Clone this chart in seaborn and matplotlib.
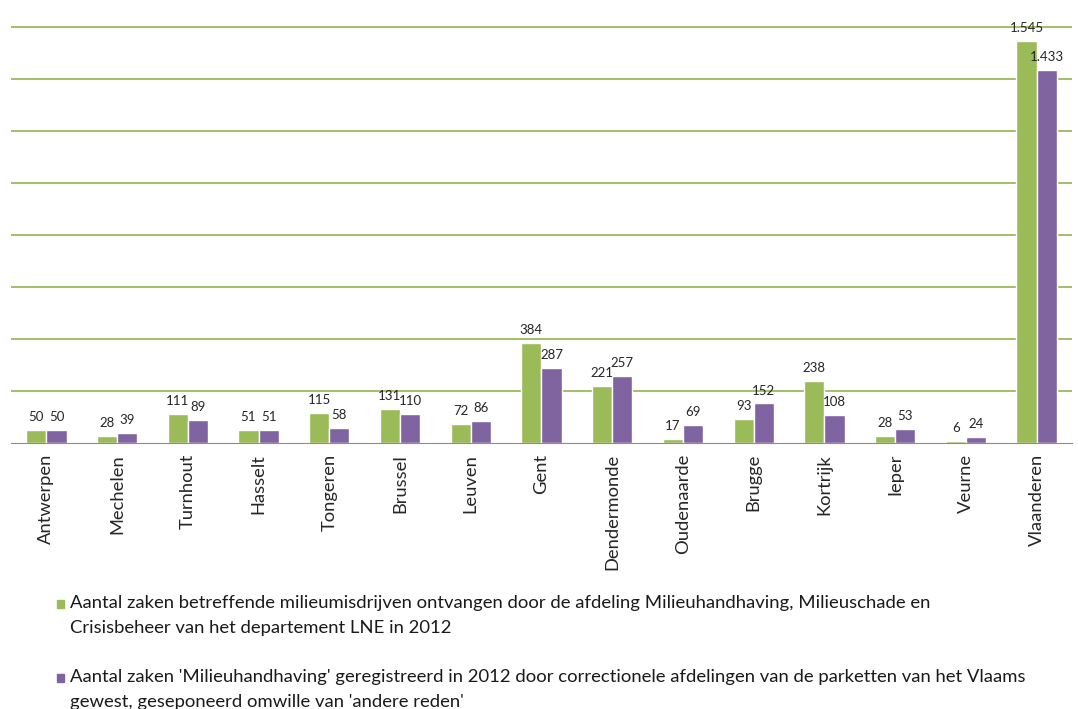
import matplotlib
matplotlib.use("Agg")
import matplotlib.pyplot as plt
from matplotlib.patches import Rectangle
import seaborn as sns
import pandas as pd
import numpy as np

regions = ["Antwerpen", "Mechelen", "Turnhout", "Hasselt", "Tongeren", "Brussel",
           "Leuven", "Gent", "Dendermonde", "Oudenaarde", "Brugge", "Kortrijk",
           "Ieper", "Veurne", "Vlaanderen"]
lne_cases = [50, 28, 111, 51, 115, 131, 72, 384, 221, 17, 93, 238, 28, 6, 1545]
parket_cases = [50, 39, 89, 51, 58, 110, 86, 287, 257, 69, 152, 108, 53, 24, 1433]
series_names = [
    "Aantal zaken betreffende milieumisdrijven ontvangen door de afdeling Milieuhandhaving, Milieuschade en\n"
    "Crisisbeheer van het departement LNE in 2012",
    "Aantal zaken 'Milieuhandhaving' geregistreerd in 2012 door correctionele afdelingen van de parketten van het Vlaams\n"
    "gewest, geseponeerd omwille van 'andere reden'",
]
colors = ["#9BBB59", "#8064A2"]

df = pd.DataFrame({
    "regio": regions * 2,
    "aantal": lne_cases + parket_cases,
    "reeks": [series_names[0]] * len(regions) + [series_names[1]] * len(regions),
})

sns.set_style("white")
plt.rcParams["font.family"] = ["Lato", "DejaVu Sans"]

fig = plt.figure(figsize=(10.78, 7.09), dpi=100)
ax = fig.add_axes([0.0102, 0.3752, 0.9842, 0.5900])

sns.barplot(data=df, x="regio", y="aantal", hue="reeks", palette=colors,
            width=0.57, gap=0, saturation=1, ax=ax, legend=False)

ax.set_ylim(0, 1609)
ax.set_xlim(-0.5, len(regions) - 0.5)
ax.set_yticks(np.arange(200, 1601, 200))
ax.set_yticklabels([])
ax.tick_params(axis="y", length=0)
ax.yaxis.grid(True, color="#9BBB59", linewidth=1.3)
ax.set_axisbelow(True)
for s in ["top", "right", "left"]:
    ax.spines[s].set_visible(False)
ax.spines["bottom"].set_color("#8C8C8C")

ax.set_xticks(np.arange(-0.5, len(regions), 1), minor=True)
ax.tick_params(axis="x", which="minor", length=6, color="#8C8C8C", direction="out")
ax.tick_params(axis="x", which="major", length=0, pad=8)
ax.set_xticks(range(len(regions)))
ax.set_xticklabels(regions, rotation=90, fontsize=13.2)
ax.set_xlabel("")
ax.set_ylabel("")

def fmt(v):
    return f"{int(v):,}".replace(",", ".")

for cont in ax.containers:
    ax.bar_label(cont, labels=[fmt(b.get_height()) for b in cont], padding=5,
                 fontsize=9.5, clip_on=False)

# legend: square aligned with the first line of each wrapped label
W, H = fig.get_size_inches() * fig.dpi
for i, (name, col) in enumerate(zip(series_names, colors)):
    y_px = 604 + i * 74
    fig.add_artist(Rectangle((57 / W, 1 - (y_px + 4) / H), 7 / W, 8 / H,
                             transform=fig.transFigure, color=col))
    fig.text(70 / W, 1 - (y_px - 9) / H, name, fontsize=13.3, va="top",
             ha="left", linespacing=1.7, color="#1a1a1a")

fig.savefig("out.png", dpi=100)
